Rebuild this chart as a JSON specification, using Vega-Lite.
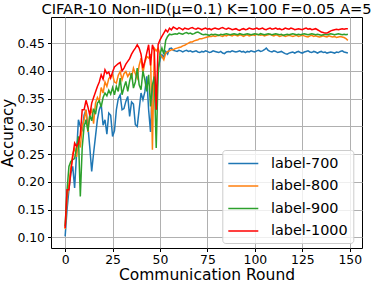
{
"$schema": "https://vega.github.io/schema/vega-lite/v6.json",
"width": 311, "height": 231,
"autosize": {"type": "none"},
"padding": {"left": 51, "top": 17, "right": 12, "bottom": 36},
"background": "white",
"config": {"font": "DejaVu Sans", "view": {"stroke": "black", "strokeWidth": 1}},
"title": {"text": "CIFAR-10 Non-IID(μ=0.1) K=100 F=0.05 A=5", "fontSize": 14.7, "fontWeight": "normal", "font": "DejaVu Sans", "color": "black", "offset": 0, "anchor": "middle"},
"data": {"values": [
{"r":0,"label-700":0.102,"label-800":0.115,"label-900":0.120,"label-1000":0.117},
{"r":1,"label-700":0.150,"label-800":0.170,"label-900":0.185,"label-1000":0.186},
{"r":2,"label-700":0.186,"label-800":0.195,"label-900":0.228,"label-1000":0.186},
{"r":3,"label-700":0.215,"label-800":0.225,"label-900":0.237,"label-1000":0.219},
{"r":4,"label-700":0.228,"label-800":0.250,"label-900":0.240,"label-1000":0.245},
{"r":5,"label-700":0.189,"label-800":0.262,"label-900":0.242,"label-1000":0.270},
{"r":6,"label-700":0.250,"label-800":0.245,"label-900":0.262,"label-1000":0.264},
{"r":7,"label-700":0.312,"label-800":0.280,"label-900":0.282,"label-1000":0.270},
{"r":8,"label-700":0.300,"label-800":0.262,"label-900":0.174,"label-1000":0.285},
{"r":9,"label-700":0.294,"label-800":0.300,"label-900":0.262,"label-1000":0.330},
{"r":10,"label-700":0.320,"label-800":0.312,"label-900":0.300,"label-1000":0.330},
{"r":11,"label-700":0.330,"label-800":0.330,"label-900":0.312,"label-1000":0.347},
{"r":12,"label-700":0.300,"label-800":0.290,"label-900":0.292,"label-1000":0.335},
{"r":13,"label-700":0.262,"label-800":0.322,"label-900":0.320,"label-1000":0.320},
{"r":14,"label-700":0.219,"label-800":0.330,"label-900":0.310,"label-1000":0.342},
{"r":15,"label-700":0.252,"label-800":0.305,"label-900":0.332,"label-1000":0.352},
{"r":16,"label-700":0.282,"label-800":0.342,"label-900":0.322,"label-1000":0.362},
{"r":17,"label-700":0.312,"label-800":0.352,"label-900":0.342,"label-1000":0.372},
{"r":18,"label-700":0.330,"label-800":0.345,"label-900":0.346,"label-1000":0.380},
{"r":19,"label-700":0.340,"label-800":0.370,"label-900":0.335,"label-1000":0.393},
{"r":20,"label-700":0.302,"label-800":0.360,"label-900":0.352,"label-1000":0.385},
{"r":21,"label-700":0.312,"label-800":0.380,"label-900":0.360,"label-1000":0.402},
{"r":22,"label-700":0.286,"label-800":0.372,"label-900":0.355,"label-1000":0.395},
{"r":23,"label-700":0.324,"label-800":0.386,"label-900":0.365,"label-1000":0.398},
{"r":24,"label-700":0.320,"label-800":0.390,"label-900":0.358,"label-1000":0.387},
{"r":25,"label-700":0.282,"label-800":0.393,"label-900":0.370,"label-1000":0.398},
{"r":26,"label-700":0.292,"label-800":0.380,"label-900":0.357,"label-1000":0.407},
{"r":27,"label-700":0.330,"label-800":0.378,"label-900":0.372,"label-1000":0.410},
{"r":28,"label-700":0.350,"label-800":0.392,"label-900":0.363,"label-1000":0.413},
{"r":29,"label-700":0.357,"label-800":0.399,"label-900":0.387,"label-1000":0.415},
{"r":30,"label-700":0.330,"label-800":0.384,"label-900":0.357,"label-1000":0.400},
{"r":31,"label-700":0.332,"label-800":0.395,"label-900":0.370,"label-1000":0.405},
{"r":32,"label-700":0.345,"label-800":0.399,"label-900":0.381,"label-1000":0.412},
{"r":33,"label-700":0.354,"label-800":0.390,"label-900":0.363,"label-1000":0.417},
{"r":34,"label-700":0.318,"label-800":0.396,"label-900":0.382,"label-1000":0.422},
{"r":35,"label-700":0.344,"label-800":0.388,"label-900":0.396,"label-1000":0.430},
{"r":36,"label-700":0.340,"label-800":0.405,"label-900":0.369,"label-1000":0.436},
{"r":37,"label-700":0.303,"label-800":0.395,"label-900":0.380,"label-1000":0.441},
{"r":38,"label-700":0.300,"label-800":0.387,"label-900":0.405,"label-1000":0.447},
{"r":39,"label-700":0.330,"label-800":0.410,"label-900":0.375,"label-1000":0.441},
{"r":40,"label-700":0.360,"label-800":0.423,"label-900":0.366,"label-1000":0.430},
{"r":41,"label-700":0.348,"label-800":0.396,"label-900":0.400,"label-1000":0.405},
{"r":42,"label-700":0.362,"label-800":0.415,"label-900":0.384,"label-1000":0.417},
{"r":43,"label-700":0.390,"label-800":0.426,"label-900":0.363,"label-1000":0.432},
{"r":44,"label-700":0.330,"label-800":0.423,"label-900":0.393,"label-1000":0.447},
{"r":45,"label-700":0.290,"label-800":0.430,"label-900":0.336,"label-1000":0.410},
{"r":46,"label-700":0.372,"label-800":0.258,"label-900":0.375,"label-1000":0.447},
{"r":47,"label-700":0.375,"label-800":0.441,"label-900":0.390,"label-1000":0.436},
{"r":48,"label-700":0.330,"label-800":0.436,"label-900":0.261,"label-1000":0.330},
{"r":49,"label-700":0.405,"label-800":0.441,"label-900":0.393,"label-1000":0.447},
{"r":50,"label-700":0.420,"label-800":0.430,"label-900":0.430,"label-1000":0.456},
{"r":51,"label-700":0.429,"label-800":0.426,"label-900":0.441,"label-1000":0.462},
{"r":52,"label-700":0.425,"label-800":0.420,"label-900":0.430,"label-1000":0.468},
{"r":53,"label-700":0.435,"label-800":0.432,"label-900":0.455,"label-1000":0.474},
{"r":54,"label-700":0.430,"label-800":0.435,"label-900":0.462,"label-1000":0.470},
{"r":55,"label-700":0.440,"label-800":0.436,"label-900":0.466,"label-1000":0.477},
{"r":56,"label-700":0.441,"label-800":0.438,"label-900":0.465,"label-1000":0.474},
{"r":57,"label-700":0.437,"label-800":0.438,"label-900":0.466,"label-1000":0.479},
{"r":58,"label-700":0.436,"label-800":0.440,"label-900":0.467,"label-1000":0.477},
{"r":59,"label-700":0.435,"label-800":0.441,"label-900":0.466,"label-1000":0.475},
{"r":60,"label-700":0.437,"label-800":0.442,"label-900":0.468,"label-1000":0.478},
{"r":61,"label-700":0.436,"label-800":0.443,"label-900":0.467,"label-1000":0.476},
{"r":62,"label-700":0.434,"label-800":0.445,"label-900":0.466,"label-1000":0.474},
{"r":63,"label-700":0.436,"label-800":0.446,"label-900":0.468,"label-1000":0.477},
{"r":64,"label-700":0.437,"label-800":0.448,"label-900":0.469,"label-1000":0.476},
{"r":65,"label-700":0.435,"label-800":0.450,"label-900":0.467,"label-1000":0.475},
{"r":66,"label-700":0.436,"label-800":0.452,"label-900":0.468,"label-1000":0.477},
{"r":67,"label-700":0.434,"label-800":0.452,"label-900":0.466,"label-1000":0.478},
{"r":68,"label-700":0.435,"label-800":0.454,"label-900":0.467,"label-1000":0.476},
{"r":69,"label-700":0.436,"label-800":0.455,"label-900":0.469,"label-1000":0.475},
{"r":70,"label-700":0.434,"label-800":0.456,"label-900":0.470,"label-1000":0.477},
{"r":71,"label-700":0.433,"label-800":0.458,"label-900":0.468,"label-1000":0.476},
{"r":72,"label-700":0.435,"label-800":0.458,"label-900":0.466,"label-1000":0.474},
{"r":73,"label-700":0.434,"label-800":0.459,"label-900":0.465,"label-1000":0.476},
{"r":74,"label-700":0.436,"label-800":0.460,"label-900":0.466,"label-1000":0.477},
{"r":75,"label-700":0.435,"label-800":0.461,"label-900":0.465,"label-1000":0.475},
{"r":76,"label-700":0.433,"label-800":0.462,"label-900":0.464,"label-1000":0.476},
{"r":77,"label-700":0.434,"label-800":0.462,"label-900":0.466,"label-1000":0.474},
{"r":78,"label-700":0.436,"label-800":0.463,"label-900":0.465,"label-1000":0.476},
{"r":79,"label-700":0.435,"label-800":0.462,"label-900":0.466,"label-1000":0.477},
{"r":80,"label-700":0.434,"label-800":0.463,"label-900":0.465,"label-1000":0.476},
{"r":81,"label-700":0.433,"label-800":0.464,"label-900":0.464,"label-1000":0.475},
{"r":82,"label-700":0.435,"label-800":0.463,"label-900":0.466,"label-1000":0.477},
{"r":83,"label-700":0.432,"label-800":0.462,"label-900":0.465,"label-1000":0.478},
{"r":84,"label-700":0.431,"label-800":0.464,"label-900":0.466,"label-1000":0.476},
{"r":85,"label-700":0.434,"label-800":0.463,"label-900":0.467,"label-1000":0.475},
{"r":86,"label-700":0.435,"label-800":0.465,"label-900":0.466,"label-1000":0.477},
{"r":87,"label-700":0.434,"label-800":0.464,"label-900":0.465,"label-1000":0.476},
{"r":88,"label-700":0.436,"label-800":0.463,"label-900":0.466,"label-1000":0.474},
{"r":89,"label-700":0.435,"label-800":0.465,"label-900":0.467,"label-1000":0.475},
{"r":90,"label-700":0.434,"label-800":0.464,"label-900":0.466,"label-1000":0.476},
{"r":91,"label-700":0.435,"label-800":0.463,"label-900":0.465,"label-1000":0.474},
{"r":92,"label-700":0.436,"label-800":0.465,"label-900":0.467,"label-1000":0.473},
{"r":93,"label-700":0.434,"label-800":0.464,"label-900":0.466,"label-1000":0.475},
{"r":94,"label-700":0.435,"label-800":0.462,"label-900":0.465,"label-1000":0.476},
{"r":95,"label-700":0.433,"label-800":0.464,"label-900":0.466,"label-1000":0.474},
{"r":96,"label-700":0.435,"label-800":0.465,"label-900":0.467,"label-1000":0.475},
{"r":97,"label-700":0.434,"label-800":0.463,"label-900":0.466,"label-1000":0.477},
{"r":98,"label-700":0.436,"label-800":0.464,"label-900":0.465,"label-1000":0.476},
{"r":99,"label-700":0.435,"label-800":0.465,"label-900":0.466,"label-1000":0.475},
{"r":100,"label-700":0.434,"label-800":0.464,"label-900":0.467,"label-1000":0.476},
{"r":101,"label-700":0.436,"label-800":0.466,"label-900":0.466,"label-1000":0.477},
{"r":102,"label-700":0.437,"label-800":0.465,"label-900":0.465,"label-1000":0.475},
{"r":103,"label-700":0.435,"label-800":0.464,"label-900":0.467,"label-1000":0.476},
{"r":104,"label-700":0.436,"label-800":0.465,"label-900":0.466,"label-1000":0.477},
{"r":105,"label-700":0.438,"label-800":0.463,"label-900":0.465,"label-1000":0.475},
{"r":106,"label-700":0.441,"label-800":0.464,"label-900":0.466,"label-1000":0.474},
{"r":107,"label-700":0.437,"label-800":0.465,"label-900":0.467,"label-1000":0.476},
{"r":108,"label-700":0.435,"label-800":0.466,"label-900":0.466,"label-1000":0.477},
{"r":109,"label-700":0.434,"label-800":0.464,"label-900":0.465,"label-1000":0.475},
{"r":110,"label-700":0.436,"label-800":0.463,"label-900":0.466,"label-1000":0.476},
{"r":111,"label-700":0.435,"label-800":0.465,"label-900":0.467,"label-1000":0.477},
{"r":112,"label-700":0.433,"label-800":0.464,"label-900":0.466,"label-1000":0.475},
{"r":113,"label-700":0.434,"label-800":0.462,"label-900":0.465,"label-1000":0.476},
{"r":114,"label-700":0.435,"label-800":0.463,"label-900":0.466,"label-1000":0.474},
{"r":115,"label-700":0.433,"label-800":0.464,"label-900":0.464,"label-1000":0.475},
{"r":116,"label-700":0.431,"label-800":0.462,"label-900":0.465,"label-1000":0.477},
{"r":117,"label-700":0.430,"label-800":0.463,"label-900":0.466,"label-1000":0.476},
{"r":118,"label-700":0.432,"label-800":0.464,"label-900":0.465,"label-1000":0.475},
{"r":119,"label-700":0.433,"label-800":0.463,"label-900":0.466,"label-1000":0.477},
{"r":120,"label-700":0.434,"label-800":0.462,"label-900":0.467,"label-1000":0.476},
{"r":121,"label-700":0.432,"label-800":0.463,"label-900":0.466,"label-1000":0.474},
{"r":122,"label-700":0.434,"label-800":0.464,"label-900":0.465,"label-1000":0.475},
{"r":123,"label-700":0.435,"label-800":0.462,"label-900":0.466,"label-1000":0.476},
{"r":124,"label-700":0.433,"label-800":0.463,"label-900":0.465,"label-1000":0.475},
{"r":125,"label-700":0.432,"label-800":0.464,"label-900":0.466,"label-1000":0.474},
{"r":126,"label-700":0.434,"label-800":0.463,"label-900":0.467,"label-1000":0.476},
{"r":127,"label-700":0.435,"label-800":0.462,"label-900":0.466,"label-1000":0.477},
{"r":128,"label-700":0.436,"label-800":0.461,"label-900":0.465,"label-1000":0.475},
{"r":129,"label-700":0.434,"label-800":0.463,"label-900":0.466,"label-1000":0.476},
{"r":130,"label-700":0.433,"label-800":0.464,"label-900":0.467,"label-1000":0.474},
{"r":131,"label-700":0.435,"label-800":0.462,"label-900":0.466,"label-1000":0.475},
{"r":132,"label-700":0.434,"label-800":0.463,"label-900":0.465,"label-1000":0.476},
{"r":133,"label-700":0.432,"label-800":0.462,"label-900":0.466,"label-1000":0.474},
{"r":134,"label-700":0.434,"label-800":0.461,"label-900":0.465,"label-1000":0.472},
{"r":135,"label-700":0.435,"label-800":0.462,"label-900":0.464,"label-1000":0.470},
{"r":136,"label-700":0.433,"label-800":0.463,"label-900":0.465,"label-1000":0.469},
{"r":137,"label-700":0.434,"label-800":0.462,"label-900":0.466,"label-1000":0.468},
{"r":138,"label-700":0.432,"label-800":0.461,"label-900":0.465,"label-1000":0.468},
{"r":139,"label-700":0.433,"label-800":0.463,"label-900":0.466,"label-1000":0.470},
{"r":140,"label-700":0.434,"label-800":0.462,"label-900":0.467,"label-1000":0.472},
{"r":141,"label-700":0.433,"label-800":0.461,"label-900":0.466,"label-1000":0.473},
{"r":142,"label-700":0.432,"label-800":0.462,"label-900":0.465,"label-1000":0.474},
{"r":143,"label-700":0.434,"label-800":0.460,"label-900":0.466,"label-1000":0.475},
{"r":144,"label-700":0.433,"label-800":0.461,"label-900":0.467,"label-1000":0.474},
{"r":145,"label-700":0.435,"label-800":0.462,"label-900":0.466,"label-1000":0.475},
{"r":146,"label-700":0.436,"label-800":0.461,"label-900":0.465,"label-1000":0.476},
{"r":147,"label-700":0.434,"label-800":0.460,"label-900":0.466,"label-1000":0.475},
{"r":148,"label-700":0.433,"label-800":0.458,"label-900":0.465,"label-1000":0.476},
{"r":149,"label-700":0.432,"label-800":0.455,"label-900":0.466,"label-1000":0.476}
]},
"transform": [{"fold": ["label-700", "label-800", "label-900", "label-1000"], "as": ["series", "acc"]}],
"mark": {"type": "line", "strokeWidth": 1.5},
"encoding": {
  "x": {"field": "r", "type": "quantitative",
    "scale": {"domain": [-7.45, 156.45], "nice": false, "zero": false},
    "axis": {"title": "Communication Round", "values": [0, 25, 50, 75, 100, 125, 150], "grid": true, "gridColor": "#b0b0b0", "gridWidth": 1, "domain": false, "ticks": true, "tickColor": "black", "tickSize": 3.5, "labelFontSize": 12.4, "labelColor": "black", "labelPadding": 2, "labelFlush": false, "titleFontSize": 15.5, "titleFontWeight": "normal", "titleColor": "black", "titlePadding": 2}},
  "y": {"field": "acc", "type": "quantitative",
    "scale": {"domain": [0.081, 0.497], "nice": false, "zero": false},
    "axis": {"title": "Accuracy", "values": [0.10, 0.15, 0.20, 0.25, 0.30, 0.35, 0.40, 0.45], "format": ".2f", "grid": true, "gridColor": "#b0b0b0", "gridWidth": 1, "domain": false, "ticks": true, "tickColor": "black", "tickSize": 3.5, "labelFontSize": 12.4, "labelColor": "black", "labelPadding": 3, "labelFlush": false, "titleFontSize": 15, "titleFontWeight": "normal", "titleColor": "black", "titlePadding": 1}},
  "color": {"field": "series", "type": "nominal",
    "scale": {"domain": ["label-700", "label-800", "label-900", "label-1000"], "range": ["#1f77b4", "#ff7f0e", "#2ca02c", "#ff0000"]},
    "legend": {"title": null, "orient": "none", "legendX": 171.3, "legendY": 133, "padding": 5, "fillColor": "rgba(255,255,255,0.8)", "strokeColor": "#cccccc", "cornerRadius": 3, "symbolType": "M-1,0H3", "symbolSize": 225, "symbolStrokeWidth": 1.5, "labelFontSize": 14.4, "labelColor": "black", "labelOffset": 26.7, "rowPadding": 7.5, "labelLimit": 200}}
}
}
